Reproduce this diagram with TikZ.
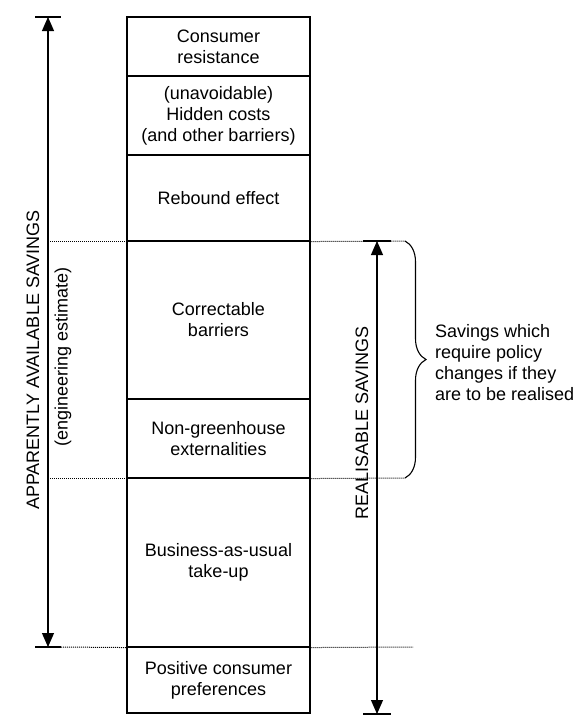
\documentclass[tikz,border=0pt]{standalone}
\usepackage{fontspec}
\setmainfont{Liberation Sans}
\usetikzlibrary{arrows.meta,decorations.pathreplacing}
\begin{document}
\begin{tikzpicture}[x=1pt,y=-1pt,
  every node/.style={font=\fontsize{18}{21}\selectfont, inner sep=0pt},
  rowbox/.style={draw, line width=1.1pt, minimum width=183pt, align=center},
  guide/.style={line width=1pt, dash pattern=on 1pt off 1pt},
  span/.style={line width=1.1pt, {Triangle[length=14pt,width=12pt]}-{Triangle[length=14pt,width=12pt]}},
  tick/.style={line width=1.3pt},
  sidelabel/.style={rotate=90}]
\useasboundingbox (0,0) rectangle (580,716);

% the stacked column of savings categories
\node[rowbox, minimum height=59pt]  (resist)   at (218.5,46.5)  {Consumer\\resistance};
\node[rowbox, minimum height=79pt]  (hidden)   at (218.5,115.5) {(unavoidable)\\Hidden costs\\(and other barriers)};
\node[rowbox, minimum height=86pt]  (rebound)  at (218.5,198)   {Rebound effect};
\node[rowbox, minimum height=158pt] (correct)  at (218.5,320)   {Correctable\\barriers};
\node[rowbox, minimum height=79pt]  (nongreen) at (218.5,438.5) {Non-greenhouse\\externalities};
\node[rowbox, minimum height=169pt] (bau)      at (218.5,562.5) {Business-as-usual\\take-up};
\node[rowbox, minimum height=66pt]  (positive) at (218.5,680)   {Positive consumer\\preferences};

% end points of the two dimension arrows and the brace
\coordinate (aTop) at (48,17);
\coordinate (aBot) at (48,647);
\coordinate (rTop) at (377,241);
\coordinate (rBot) at (377,714);
\coordinate (bTop) at (405,241);
\coordinate (bBot) at (405,478);
\coordinate (gEnd) at (413,647);

% dotted guide lines
\draw[guide] (aTop |- rebound.south) -- (rebound.south west);
\draw[guide] (rebound.south east) -- (bTop);
\draw[guide] (aTop |- nongreen.south) -- (nongreen.south west);
\draw[guide] (nongreen.south east) -- (bBot);
\draw[guide] ([xshift=13pt]aBot) -- (bau.south west);
\draw[guide] (bau.south east) -- (gEnd);

% apparently available savings
\draw[span] (aTop) -- (aBot);
\draw[tick] ([xshift=-13pt]aTop) -- ([xshift=13pt]aTop);
\draw[tick] ([xshift=-13pt]aBot) -- ([xshift=13pt]aBot);
\node[sidelabel] (apparent) at (33,360) {APPARENTLY AVAILABLE SAVINGS};
\node[sidelabel] (engest)   at (63,357) {(engineering estimate)};

% realisable savings
\draw[span] (rTop) -- (rBot);
\draw[tick] ([xshift=-14pt]rTop) -- ([xshift=14pt]rTop);
\draw[tick] ([xshift=-14pt]rBot) -- ([xshift=14pt]rBot);
\node[sidelabel] (realis) at (362,423) {REALISABLE SAVINGS};

% brace and note
\draw[line width=1.1pt, decorate, decoration={brace, amplitude=21pt}] (bTop) -- (bBot);
\node[anchor=west, align=left] (note) at (435,363)
  {Savings which\\require policy\\changes if they\\are to be realised};
\end{tikzpicture}
\end{document}
